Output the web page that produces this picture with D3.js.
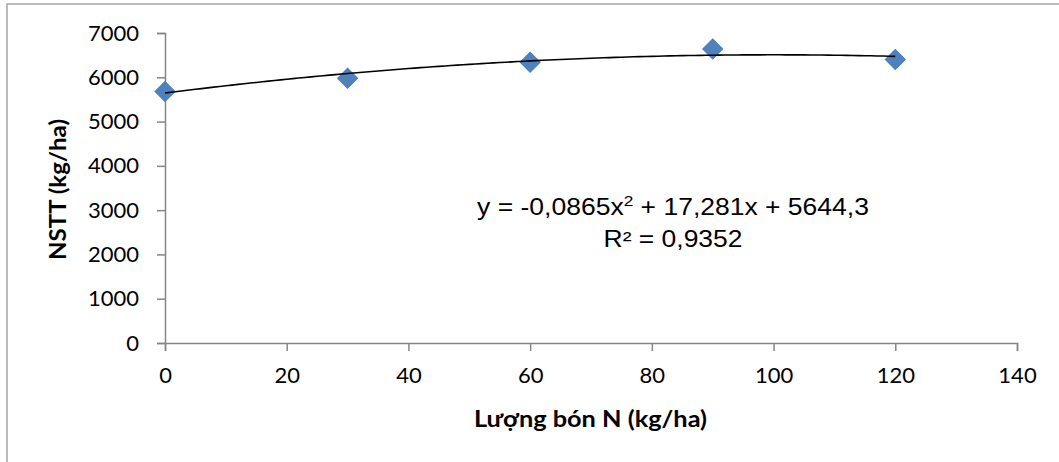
<!DOCTYPE html>
<html lang="vi">
<head>
<meta charset="utf-8" />
<title>NSTT theo lượng bón N</title>
<script src="https://d3js.org/d3.v7.min.js"></script>
<style>
  body { margin: 0; background: #fff; }
  .axis path, .axis line { stroke: #868686; stroke-width: 1.5; }
  .axis text { font-family: Lato, "Open Sans", sans-serif; font-size: 22px; fill: #000; }
  .title { font-family: Lato, "Open Sans", sans-serif; font-weight: bold; font-size: 23px; }
  .eq { font-family: "Liberation Sans", Arial, sans-serif; font-size: 23px; }
</style>
</head>
<body>
<script>
  // data
  const nRates = [0, 30, 60, 90, 120];
  const yields = [5680, 5980, 6340, 6640, 6400];
  const xTicks = [0, 20, 40, 60, 80, 100, 120, 140];
  const yTicks = [0, 1000, 2000, 3000, 4000, 5000, 6000, 7000];
  // trendline coefficients as printed on the chart: a*x^2 + b*x + c
  const trendCoef = [-0.0865, 17.281, 5644.3];

  const W = 1059, H = 462;
  const margin = { top: 33, left: 165, right: 42, bottom: 119 };
  const width = W - margin.left - margin.right;
  const height = H - margin.top - margin.bottom;

  const svg = d3.select("body").append("svg")
    .attr("width", W).attr("height", H);

  // outer chart border (only left and top are visible in the crop)
  svg.append("rect")
    .attr("x", 7).attr("y", 4)
    .attr("width", W).attr("height", H)
    .attr("fill", "none").attr("stroke", "#a6a6a6").attr("stroke-width", 1.5);

  const g = svg.append("g").attr("transform", `translate(${margin.left},${margin.top})`);

  const x = d3.scaleLinear().domain([0, 140]).range([0, width]);
  const y = d3.scaleLinear().domain([0, 7000]).range([height, 0]);

  g.append("g").attr("class", "axis")
    .call(d3.axisLeft(y).tickValues(yTicks).tickSize(8).tickSizeOuter(8).tickPadding(18).tickFormat(d3.format("d")));

  g.append("g").attr("class", "axis")
    .attr("transform", `translate(0,${height})`)
    .call(d3.axisBottom(x).tickValues(xTicks).tickSize(8).tickSizeOuter(8).tickPadding(16).tickFormat(d3.format("d")));

  // points
  const diamond = d3.symbol().type(d3.symbolSquare).size(200);
  g.selectAll(".pt")
    .data(nRates.map((n, i) => [n, yields[i]]))
    .join("path")
    .attr("class", "pt")
    .attr("d", diamond)
    .attr("transform", d => `translate(${x(d[0])},${y(d[1])}) rotate(45)`)
    .attr("fill", "#4f81bd")
    .attr("stroke", "#4a7ebb")
    .attr("stroke-width", 1);

  // polynomial trendline
  const poly = v => trendCoef[0] * v * v + trendCoef[1] * v + trendCoef[2];
  const trend = d3.range(0, 120.5, 1).map(v => [v, poly(v)]);
  g.append("path")
    .datum(trend)
    .attr("fill", "none")
    .attr("stroke", "#000")
    .attr("stroke-width", 1.6)
    .attr("d", d3.line().x(d => x(d[0])).y(d => y(d[1])));

  // stretch a text horizontally so it spans the width seen in the reference
  function fitWidth(txt, target) {
    const w = txt.node().getComputedTextLength();
    txt.attr("transform", `scale(${target / w},1)`);
  }

  // equation label
  const eq = svg.append("g").attr("transform", "translate(673,215)")
    .append("text").attr("class", "eq").attr("text-anchor", "middle");
  eq.append("tspan").text("y = -0,0865x");
  eq.append("tspan").attr("dy", -9).attr("font-size", 15).text("2");
  eq.append("tspan").attr("dy", 9).text(" + 17,281x + 5644,3");
  fitWidth(eq, 392);

  const r2 = svg.append("g").attr("transform", "translate(673,247)")
    .append("text").attr("class", "eq").attr("text-anchor", "middle")
    .text("R² = 0,9352");
  fitWidth(r2, 139);

  // axis titles
  svg.append("text").attr("class", "title")
    .attr("x", 474).attr("y", 427)
    .attr("textLength", 233).attr("lengthAdjust", "spacingAndGlyphs")
    .text("Lượng bón N (kg/ha)");
  svg.append("text").attr("class", "title")
    .attr("transform", `translate(66,260) rotate(-90)`)
    .attr("textLength", 141).attr("lengthAdjust", "spacingAndGlyphs")
    .text("NSTT (kg/ha)");
</script>
</body>
</html>
